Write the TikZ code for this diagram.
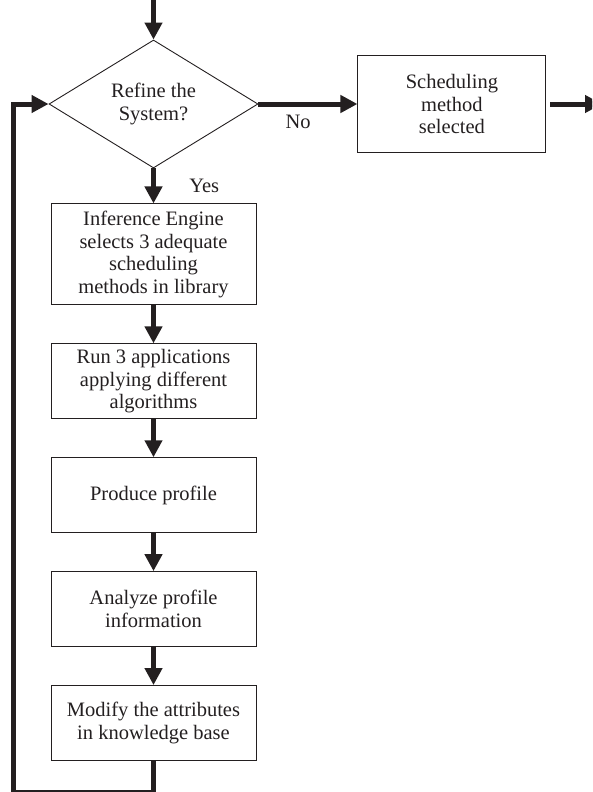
\documentclass[tikz,border=0pt]{standalone}
\usepackage{fontspec}
\setmainfont{Liberation Serif}
\usetikzlibrary{positioning,shapes.geometric,arrows.meta}
\definecolor{ink}{HTML}{231F20}

\begin{document}
\begin{tikzpicture}[x=1pt, y=1pt,
    font=\fontsize{20.5}{22.7}\selectfont, text=ink,
    node distance=38pt,
    stepbox/.style={draw=ink, line width=0.9pt, minimum width=205pt, minimum height=75pt, align=center, inner sep=2pt},
    decision/.style={diamond, draw=ink, line width=0.9pt, aspect=1.63, minimum width=209pt, minimum height=128pt, inner sep=0pt, align=center},
    flow/.style={ink, line width=5pt, -{Triangle[length=17pt, width=17pt]}}]
  % Frame
  \clip (0,0) rectangle (592,-792);
  \useasboundingbox (0,0) rectangle (592,-792);

  % Decision
  \node[decision] (refine) at (153.5,-104) {Refine the\\System?};
  \coordinate (entry) at (153.5,0);

  % Exit branch
  \node[stepbox, minimum width=188pt, minimum height=97pt, right=99pt of refine] (selected) {Scheduling\\method\\selected};
  \coordinate (exit) at (602,-104);

  % Refinement steps
  \node[stepbox, minimum height=101pt, below=35pt of refine] (infer) {Inference Engine\\selects 3 adequate\\scheduling\\methods in library};
  \node[stepbox, below=of infer] (run) {Run 3 applications\\applying different\\algorithms};
  \node[stepbox, below=of run] (profile) {Produce profile};
  \node[stepbox, below=of profile] (analyze) {Analyze profile\\information};
  \node[stepbox, below=of analyze] (modify) {Modify the attributes\\in knowledge base};

  % Connectors
  \draw[flow] (entry) -- (refine.north);
  \draw[flow] (refine.east) -- node[pos=0.4, below=5pt] {No} (selected.west);
  \draw[flow] ([xshift=4pt]selected.east) -- (exit);
  \draw[flow] (refine.south) -- node[pos=0.5, right=30pt] {Yes} (infer.north);
  \draw[flow] (infer) -- (run);
  \draw[flow] (run) -- (profile);
  \draw[flow] (profile) -- (analyze);
  \draw[flow] (analyze) -- (modify);

  % Feedback loop
  \draw[flow] (modify.south) |- ++(-140,-32) |- (refine.west);
\end{tikzpicture}
\end{document}
